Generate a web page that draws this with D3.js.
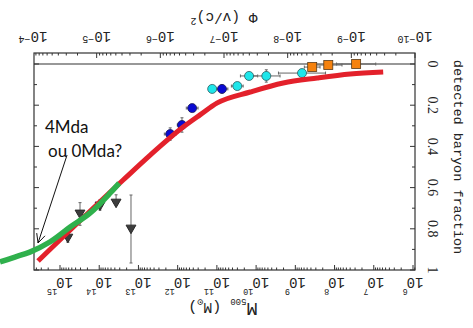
<!DOCTYPE html>
<meta charset="utf-8">
<script src="https://d3js.org/d3.v7.min.js"></script>
<style>
  body { margin: 0; background: #fff; }
</style>
<div id="chart"></div>
<script>
// figure is shown rotated by 180 degrees, with a hand drawn green curve and a note on top

// tick labels
const massExp = [15, 14, 13, 12, 11, 10, 9, 8, 7, 6];
const phiExp = [-4, -5, -6, -7, -8, -9, -10];
const fracTicks = [0, 0.2, 0.4, 0.6, 0.8, 1];
const fracLabels = ["0", "0.2", "0.4", "0.6", "0.8", "1"];

// grey triangles (log10 M500, detected fraction, errors)
const triLogM = [14.80, 14.49, 13.98, 13.57, 13.19];
const triFrac = [0.840, 0.723, 0.684, 0.670, 0.796];
const triErrUp = [0.025, 0.05, 0.025, 0.035, 0.16];
const triErrDown = [0.025, 0.06, 0.025, 0.01, 0.17];
const triErrM = [0.05, 0.05, 0.05, 0.05, 0.0];

// dark blue circles
const blueLogM = [12.19, 11.89, 11.63, 10.87];
const blueFrac = [0.340, 0.296, 0.214, 0.121];
const blueErrM = [0.15, 0.12, 0.15, 0.15];
const blueErrF = [0.03, 0.035, 0.01, 0.02];

// cyan circles
const cyanLogM = [11.12, 10.48, 10.18, 9.74, 8.83];
const cyanFrac = [0.121, 0.107, 0.058, 0.058, 0.044];
const cyanErrM = [0.08, 0.15, 0.22, 0.35, 0.6];
const cyanErrF = [0.01, 0.01, 0.0, 0.03, 0.0];

// orange squares
const orangeLogM = [8.57, 8.16, 7.45];
const orangeFrac = [0.015, 0.005, 0.0];
const orangeErrM = [0.2, 0.35, 0.5];

// model curve (red) and the added curve (green)
const redLogM = [15.56, 13.39, 12.70, 11.86, 11.43, 10.99, 10.15, 9.31, 8.44, 7.60, 6.76];
const redFrac = [0.956, 0.563, 0.442, 0.306, 0.247, 0.189, 0.136, 0.092, 0.068, 0.049, 0.039];
const greenLogM = [16.53, 16.15, 15.77, 15.26, 14.74, 14.23, 13.72, 13.49];
const greenFrac = [0.961, 0.937, 0.913, 0.864, 0.791, 0.723, 0.626, 0.578];

// note
const noteLines = ["4Mda", "ou 0Mda?"];
const noteTip = [15.56, 0.869];
const noteTail = [14.82, 0.442];

const width = 473, height = 328;
const frame = {left: 34, right: 415, top: 53, bottom: 270};

const svg = d3.select("#chart")
  .append("svg")
    .attr("width", width)
    .attr("height", height);

const xM = d3.scaleLog().domain([1e15, 1e6]).range([60, 413]);
const xPhi = d3.scaleLog().domain([1e-4, 1e-10]).range([33, 415]);
const y = d3.scaleLinear().domain([0, 1]).range([64, 270]);
const mx = d => xM(Math.pow(10, d));

const axisCol = "#333";
const inFrame = x => x >= frame.left - 0.5 && x <= frame.right + 0.5;

// frame
svg.append("rect")
  .attr("x", frame.left).attr("y", frame.top)
  .attr("width", frame.right - frame.left).attr("height", frame.bottom - frame.top)
  .attr("fill", "none").attr("stroke", axisCol).attr("stroke-width", 1.2);

// zero line
svg.append("line")
  .attr("x1", frame.left).attr("x2", frame.right)
  .attr("y1", y(0)).attr("y2", y(0))
  .attr("stroke", axisCol).attr("stroke-width", 1.2);

// log ticks, bottom (mass) and top (potential)
const massTicks = [], phiTicksArr = [];
for (let e = 5; e <= 15; e++) for (let k = 1; k <= 9; k++) massTicks.push({v: k * Math.pow(10, e), major: k === 1});
for (let e = -11; e <= -4; e++) for (let k = 1; k <= 9; k++) phiTicksArr.push({v: k * Math.pow(10, e), major: k === 1});

svg.append("g").selectAll("line")
  .data(massTicks.filter(d => inFrame(xM(d.v))))
  .join("line")
    .attr("x1", d => xM(d.v)).attr("x2", d => xM(d.v))
    .attr("y1", frame.bottom).attr("y2", d => frame.bottom - (d.major ? 5 : 2.5))
    .attr("stroke", axisCol);

svg.append("g").selectAll("line")
  .data(phiTicksArr.filter(d => inFrame(xPhi(d.v))))
  .join("line")
    .attr("x1", d => xPhi(d.v)).attr("x2", d => xPhi(d.v))
    .attr("y1", frame.top).attr("y2", d => frame.top + (d.major ? 5 : 2.5))
    .attr("stroke", axisCol);

// fraction ticks, left and right
const fracMinor = d3.range(0, 11).map(i => i / 10);
svg.append("g").selectAll("line")
  .data(fracMinor)
  .join("line")
    .attr("x1", frame.left).attr("x2", (d, i) => frame.left + (i % 2 ? 3 : 5))
    .attr("y1", d => y(d)).attr("y2", d => y(d))
    .attr("stroke", axisCol);
svg.append("g").selectAll("line")
  .data(fracMinor)
  .join("line")
    .attr("x1", frame.right).attr("x2", (d, i) => frame.right - (i % 2 ? 3 : 5))
    .attr("y1", d => y(d)).attr("y2", d => y(d))
    .attr("stroke", axisCol);

// bottom tick labels, upside down
svg.append("g").selectAll("text")
  .data(massExp)
  .join("text")
    .attr("x", d => mx(d)).attr("y", 278)
    .attr("transform", d => `rotate(180,${mx(d)},278)`)
    .attr("text-anchor", "middle")
    .attr("font-family", "Liberation Mono, monospace")
    .attr("font-size", 14)
    .attr("fill", "#222")
    .each(function(d) {
      const t = d3.select(this);
      t.append("tspan").text("10");
      t.append("tspan").attr("dy", -11).attr("dx", -1).attr("font-size", 8.5).text(d);
    });

// top tick labels, upside down
svg.append("g").selectAll("text")
  .data(phiExp)
  .join("text")
    .attr("x", d => xPhi(Math.pow(10, d))).attr("y", 32)
    .attr("transform", d => `rotate(180,${xPhi(Math.pow(10, d))},32)`)
    .attr("text-anchor", "middle")
    .attr("font-family", "Liberation Mono, monospace")
    .attr("font-size", 14)
    .attr("fill", "#222")
    .each(function(d) {
      const t = d3.select(this);
      t.append("tspan").text("10");
      t.append("tspan").attr("dy", -4).attr("font-size", 10).text("\u2212" + Math.abs(d));
    });

// right tick labels, turned a quarter
svg.append("g").selectAll("text")
  .data(fracTicks)
  .join("text")
    .attr("x", 432).attr("y", d => y(d))
    .attr("transform", d => `rotate(90,432,${y(d)})`)
    .attr("text-anchor", "middle")
    .attr("dominant-baseline", "central")
    .attr("font-family", "Liberation Serif, serif")
    .attr("font-size", 14)
    .attr("fill", "#222")
    .text((d, i) => fracLabels[i]);

// axis titles
svg.append("text")
  .attr("x", 457).attr("y", 157)
  .attr("transform", "rotate(90,457,157)")
  .attr("text-anchor", "middle")
  .attr("dominant-baseline", "central")
  .attr("font-family", "Liberation Mono, monospace")
  .attr("font-size", 13.5)
  .attr("fill", "#222")
  .text("detected baryon fraction");

const mTitle = svg.append("text")
  .attr("x", 223).attr("y", 303)
  .attr("transform", "rotate(180,223,303)")
  .attr("text-anchor", "middle")
  .attr("font-family", "Liberation Mono, monospace")
  .attr("font-size", 15)
  .attr("fill", "#222");
mTitle.append("tspan").attr("font-size", 19).text("M");
mTitle.append("tspan").attr("dy", 4).attr("font-size", 9).text("500");
mTitle.append("tspan").attr("dy", -4).text(" (M");
mTitle.append("tspan").attr("dy", 4).attr("font-size", 10).text("\u2299");
mTitle.append("tspan").attr("dy", -4).text(")");

const pTitle = svg.append("text")
  .attr("x", 224).attr("y", 13)
  .attr("transform", "rotate(180,224,13)")
  .attr("text-anchor", "middle")
  .attr("font-family", "Liberation Mono, monospace")
  .attr("font-size", 14.5)
  .attr("fill", "#222");
pTitle.append("tspan").text("\u03A6 (v/c)");
pTitle.append("tspan").attr("dy", -5).attr("font-size", 10).text("2");

// error bars
const errCol = "#666";
function errBars(logM, frac, errM, errUp, errDown) {
  const g = svg.append("g").attr("stroke", errCol).attr("stroke-width", 1);
  logM.forEach((m, i) => {
    const f = frac[i];
    if (errM[i] > 0) {
      g.append("line")
        .attr("x1", mx(m - errM[i])).attr("x2", mx(m + errM[i]))
        .attr("y1", y(f)).attr("y2", y(f));
      [m - errM[i], m + errM[i]].forEach(v => g.append("line")
        .attr("x1", mx(v)).attr("x2", mx(v))
        .attr("y1", y(f) - 1.5).attr("y2", y(f) + 1.5));
    }
    if (errUp[i] > 0 || errDown[i] > 0) {
      g.append("line")
        .attr("x1", mx(m)).attr("x2", mx(m))
        .attr("y1", y(f - errUp[i])).attr("y2", y(f + errDown[i]));
      [f - errUp[i], f + errDown[i]].forEach(v => g.append("line")
        .attr("x1", mx(m) - 1.5).attr("x2", mx(m) + 1.5)
        .attr("y1", y(v)).attr("y2", y(v)));
    }
  });
}
errBars(triLogM, triFrac, triErrM, triErrUp, triErrDown);
errBars(blueLogM, blueFrac, blueErrM, blueErrF, blueErrF);
errBars(cyanLogM, cyanFrac, cyanErrM, cyanErrF, cyanErrF);
errBars(orangeLogM, orangeFrac, orangeErrM, orangeErrM.map(() => 0), orangeErrM.map(() => 0));

// markers
const triangle = d3.symbol().type(d3.symbolTriangle).size(42);
svg.append("g").selectAll("path")
  .data(triLogM)
  .join("path")
    .attr("d", triangle)
    .attr("transform", (d, i) => `translate(${mx(d)},${y(triFrac[i])}) rotate(180)`)
    .attr("fill", "#3d3d3d")
    .attr("stroke", "#2a2a2a");

svg.append("g").selectAll("circle")
  .data(blueLogM)
  .join("circle")
    .attr("cx", d => mx(d)).attr("cy", (d, i) => y(blueFrac[i]))
    .attr("r", 4.5)
    .attr("fill", "#0a0ad2")
    .attr("stroke", "#1a1a55").attr("stroke-width", 0.8);

svg.append("g").selectAll("circle")
  .data(cyanLogM)
  .join("circle")
    .attr("cx", d => mx(d)).attr("cy", (d, i) => y(cyanFrac[i]))
    .attr("r", 4.5)
    .attr("fill", "#1ee6ea")
    .attr("stroke", "#2b5c5e").attr("stroke-width", 0.8);

svg.append("g").selectAll("rect")
  .data(orangeLogM)
  .join("rect")
    .attr("x", d => mx(d) - 4.5).attr("y", (d, i) => y(orangeFrac[i]) - 4.5)
    .attr("width", 9).attr("height", 9)
    .attr("fill", "#f5820f")
    .attr("stroke", "#5a3a18").attr("stroke-width", 0.8);

// curves
const line = d3.line()
  .x(d => mx(d[0]))
  .y(d => y(d[1]))
  .curve(d3.curveMonotoneX);

svg.append("path")
  .datum(redLogM.map((m, i) => [m, redFrac[i]]))
  .attr("d", line)
  .attr("fill", "none")
  .attr("stroke", "#e3212b")
  .attr("stroke-width", 5);

svg.append("path")
  .datum(greenLogM.map((m, i) => [m, greenFrac[i]]))
  .attr("d", line)
  .attr("fill", "none")
  .attr("stroke", "#2fb04c")
  .attr("stroke-width", 5.5);

// note with arrow
svg.append("g").selectAll("text")
  .data(noteLines)
  .join("text")
    .attr("x", (d, i) => i ? 48 : 45)
    .attr("y", (d, i) => i ? 157 : 133)
    .attr("font-family", "Lato, sans-serif")
    .attr("font-size", 17)
    .attr("fill", "#111")
    .text(d => d);

const tip = [mx(noteTip[0]), y(noteTip[1])];
const tail = [mx(noteTail[0]), y(noteTail[1])];
const ang = Math.atan2(tail[1] - tip[1], tail[0] - tip[0]);
const barb = a => [tip[0] + 10 * Math.cos(ang + a), tip[1] + 10 * Math.sin(ang + a)];
svg.append("path")
  .attr("d", `M${tail}L${tip}M${barb(0.45)}L${tip}L${barb(-0.45)}`)
  .attr("fill", "none")
  .attr("stroke", "#111")
  .attr("stroke-width", 1);
</script>
